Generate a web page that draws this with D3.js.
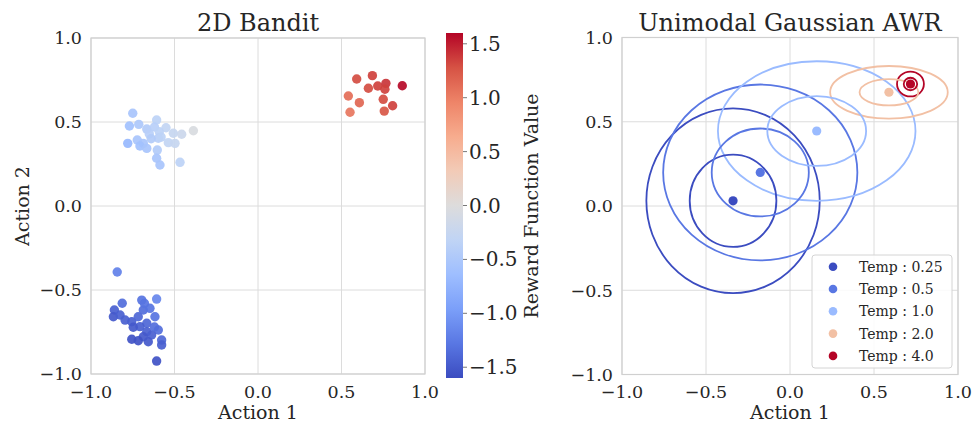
<!DOCTYPE html>
<html>
<head>
<meta charset="utf-8">
<script src="https://cdn.jsdelivr.net/npm/d3@7"></script>
<style>
  body { margin: 0; background: #fff; }
  svg text { font-family: "DejaVu Serif", serif; fill: #262626; }
</style>
</head>
<body>
<svg id="chart" width="972" height="423"></svg>
<script>
// Left panel: sampled actions and their reward
var banditX = [-0.750, -0.770, -0.714, -0.607, -0.666, -0.620, -0.551, -0.591, -0.651, -0.507, -0.457, -0.387, -0.780,
  -0.723, -0.687, -0.707, -0.666, -0.597, -0.537, -0.497, -0.603, -0.607, -0.587, -0.467, -0.580, -0.640,
  -0.843, -0.607, -0.696, -0.813, -0.860, -0.866, -0.826, -0.796, -0.756, -0.717, -0.687, -0.647, -0.617, -0.666,
  -0.707, -0.747, -0.666, -0.597, -0.637, -0.687, -0.756, -0.717, -0.657, -0.577, -0.577, -0.607, -0.680, -0.620,
  0.591, 0.685, 0.661, 0.717, 0.766, 0.760, 0.864, 0.541, 0.607, 0.750, 0.806, 0.551, 0.756];
var banditY = [0.552, 0.476, 0.486, 0.512, 0.458, 0.470, 0.466, 0.442, 0.429, 0.433, 0.427, 0.448, 0.373,
  0.393, 0.373, 0.357, 0.343, 0.403, 0.377, 0.373, 0.333, 0.284, 0.244, 0.260, 0.410, 0.400,
  -0.393, -0.554, -0.560, -0.579, -0.619, -0.659, -0.649, -0.679, -0.689, -0.659, -0.619, -0.609, -0.659, -0.698,
  -0.718, -0.722, -0.748, -0.738, -0.768, -0.778, -0.793, -0.802, -0.808, -0.798, -0.827, -0.923, -0.580, -0.720,
  0.756, 0.776, 0.701, 0.714, 0.730, 0.695, 0.716, 0.655, 0.615, 0.635, 0.597, 0.558, 0.565];
var banditReward = [-0.55, -0.60, -0.50, -0.35, -0.45, -0.40, -0.30, -0.35, -0.40, -0.25, -0.20, -0.05, -0.70,
  -0.55, -0.55, -0.60, -0.55, -0.40, -0.30, -0.25, -0.45, -0.55, -0.55, -0.35, -0.35, -0.45,
  -1.20, -1.15, -1.30, -1.35, -1.45, -1.50, -1.45, -1.45, -1.45, -1.40, -1.35, -1.30, -1.30, -1.40,
  -1.45, -1.50, -1.45, -1.35, -1.45, -1.50, -1.55, -1.55, -1.50, -1.40, -1.45, -1.55, -1.30, -1.35,
  1.30, 1.35, 1.30, 1.35, 1.40, 1.35, 1.58, 1.10, 1.15, 1.30, 1.35, 1.05, 1.25];

// Right panel: gaussian policy per temperature (mean and std)
var temps = ["0.25", "0.5", "1.0", "2.0", "4.0"];
var tempColors = ["#3b4cc0", "#5977e3", "#9abbff", "#f2c0a4", "#b40426"];
var meanX = [-0.339, -0.177, 0.159, 0.589, 0.717];
var meanY = [0.031, 0.199, 0.445, 0.675, 0.724];
var stdX = [0.258, 0.289, 0.294, 0.175, 0.040];
var stdY = [0.274, 0.261, 0.207, 0.078, 0.037];

var ticks = [-1.0, -0.5, 0.0, 0.5, 1.0];
var cbarTicks = [-1.5, -1.0, -0.5, 0.0, 0.5, 1.0, 1.5];

var coolwarm = ["#3b4cc0", "#5977e3", "#7b9ff9", "#9ebeff", "#c0d4f5", "#dddcdc",
                "#f2cbb7", "#f7ac8e", "#ee8468", "#d65244", "#b40426"];

var svg = d3.select("#chart");
var fmt = function(d) { return d3.format(".1f")(d).replace("-", "\u2212"); };

//Colour scale for the reward values
var cmap = d3.scaleLinear()
  .domain(d3.range(coolwarm.length).map(function(i) { return i / (coolwarm.length - 1); }))
  .range(coolwarm)
  .interpolate(d3.interpolateRgb);
var cnorm = d3.scaleLinear().domain([-1.6, 1.6]).range([0, 1]).clamp(true);

//Draws grid, frame and tick labels of one panel
function drawFrame(x, y, title, yLabel) {
  var g = svg.append("g");
  g.selectAll("line.vg").data(ticks).enter().append("line")
    .attr("x1", function(d) { return x(d); }).attr("x2", function(d) { return x(d); })
    .attr("y1", y(-1)).attr("y2", y(1))
    .attr("stroke", "#dcdcdc").attr("stroke-width", 1);
  g.selectAll("line.hg").data(ticks).enter().append("line")
    .attr("y1", function(d) { return y(d); }).attr("y2", function(d) { return y(d); })
    .attr("x1", x(-1)).attr("x2", x(1))
    .attr("stroke", "#dcdcdc").attr("stroke-width", 1);
  g.append("rect")
    .attr("x", x(-1)).attr("y", y(1))
    .attr("width", x(1) - x(-1)).attr("height", y(-1) - y(1))
    .attr("fill", "none").attr("stroke", "#d0d0d0").attr("stroke-width", 1.2);

  g.selectAll("text.xt").data(ticks).enter().append("text")
    .attr("x", function(d) { return x(d); }).attr("y", 398)
    .attr("text-anchor", "middle").style("font-size", "17.5px")
    .text(fmt);
  g.selectAll("text.yt").data(ticks).enter().append("text")
    .attr("x", x(-1) - 9).attr("y", function(d) { return y(d) + 6.3; })
    .attr("text-anchor", "end").style("font-size", "17.5px")
    .text(fmt);

  g.append("text")
    .attr("x", (x(-1) + x(1)) / 2).attr("y", 31)
    .attr("text-anchor", "middle").style("font-size", "24px")
    .text(title);
  g.append("text")
    .attr("x", (x(-1) + x(1)) / 2).attr("y", 419)
    .attr("text-anchor", "middle").style("font-size", "19px")
    .text("Action 1");
  if (yLabel) {
    g.append("text")
      .attr("transform", "translate(29," + ((y(-1) + y(1)) / 2) + ") rotate(-90)")
      .attr("text-anchor", "middle").style("font-size", "19px")
      .text(yLabel);
  }
  return g;
}

// ---------- Left panel ----------
var xL = d3.scaleLinear().domain([-1, 1]).range([91, 425]);
var yL = d3.scaleLinear().domain([-1, 1]).range([374, 38]);
drawFrame(xL, yL, "2D Bandit", "Action 2");

svg.append("g").selectAll("circle").data(banditX).enter().append("circle")
  .attr("cx", function(d) { return xL(d); })
  .attr("cy", function(d, i) { return yL(banditY[i]); })
  .attr("r", 4.7)
  .attr("fill", function(d, i) { return cmap(cnorm(banditReward[i])); })
  .attr("fill-opacity", 0.92);

//Colorbar
var cbY = d3.scaleLinear().domain([-1.6, 1.6]).range([378, 33]);
var grad = svg.append("defs").append("linearGradient")
  .attr("id", "cw").attr("x1", 0).attr("y1", 1).attr("x2", 0).attr("y2", 0);
grad.selectAll("stop").data(coolwarm).enter().append("stop")
  .attr("offset", function(d, i) { return i / (coolwarm.length - 1); })
  .attr("stop-color", function(d) { return d; });
svg.append("rect")
  .attr("x", 446).attr("y", cbY(1.6)).attr("width", 17)
  .attr("height", cbY(-1.6) - cbY(1.6))
  .attr("fill", "url(#cw)");
var cb = svg.append("g");
cb.selectAll("line").data(cbarTicks).enter().append("line")
  .attr("x1", 463).attr("x2", 467)
  .attr("y1", function(d) { return cbY(d); }).attr("y2", function(d) { return cbY(d); })
  .attr("stroke", "#555").attr("stroke-width", 0.8);
cb.selectAll("text").data(cbarTicks).enter().append("text")
  .attr("x", 469).attr("y", function(d) { return cbY(d) + 7; })
  .style("font-size", "20px")
  .text(fmt);
svg.append("text")
  .attr("transform", "translate(538,206) rotate(-90)")
  .attr("text-anchor", "middle").style("font-size", "19px")
  .text("Reward Function Value");

// ---------- Right panel ----------
var xR = d3.scaleLinear().domain([-1, 1]).range([622, 958]);
var yR = d3.scaleLinear().domain([-1, 1]).range([374.5, 37.5]);
drawFrame(xR, yR, "Unimodal Gaussian AWR", null);

var pol = svg.append("g");
[2, 1].forEach(function(k) {
  pol.selectAll("ellipse.s" + k).data(temps).enter().append("ellipse")
    .attr("cx", function(d, i) { return xR(meanX[i]); })
    .attr("cy", function(d, i) { return yR(meanY[i]); })
    .attr("rx", function(d, i) { return xR(k * stdX[i]) - xR(0); })
    .attr("ry", function(d, i) { return yR(0) - yR(k * stdY[i]); })
    .attr("fill", "none")
    .attr("stroke", function(d, i) { return tempColors[i]; })
    .attr("stroke-width", 1.8);
});
pol.selectAll("circle").data(temps).enter().append("circle")
  .attr("cx", function(d, i) { return xR(meanX[i]); })
  .attr("cy", function(d, i) { return yR(meanY[i]); })
  .attr("r", 4.6)
  .attr("fill", function(d, i) { return tempColors[i]; });

//Legend
var leg = svg.append("g").attr("transform", "translate(812,255)");
leg.append("rect")
  .attr("width", 140).attr("height", 113).attr("rx", 3)
  .attr("fill", "#fff").attr("fill-opacity", 0.85)
  .attr("stroke", "#d4d4d4").attr("stroke-width", 1);
var item = leg.selectAll("g").data(temps).enter().append("g")
  .attr("transform", function(d, i) { return "translate(0," + (11.7 + i * 22.3) + ")"; });
item.append("circle").attr("cx", 21).attr("r", 4.3)
  .attr("fill", function(d, i) { return tempColors[i]; });
item.append("text").attr("x", 47).attr("y", 5)
  .style("font-size", "14px")
  .text(function(d) { return "Temp : " + d; });
</script>
</body>
</html>
